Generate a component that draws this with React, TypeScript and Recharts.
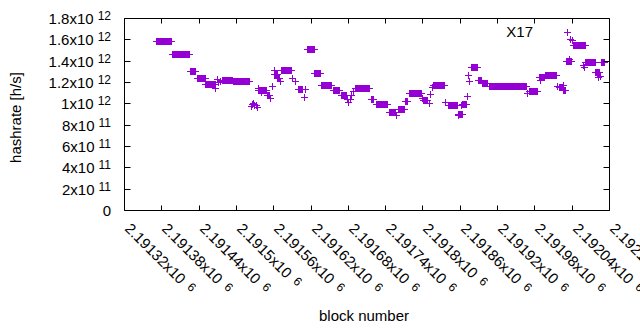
import { ReferenceArea, Scatter, ScatterChart, XAxis, YAxis } from "recharts";

// step runs: every block from start to end has the same estimate
const runStart = [
  2191371, 2191396, 2191425, 2191436, 2191450, 2191478, 2191494, 2191534, 2191549,
  2191561, 2191566, 2191572, 2191599, 2191613, 2191625, 2191636, 2191655, 2191668,
  2191692, 2191717, 2191724, 2191745, 2191760, 2191771, 2191777, 2191800, 2191816,
  2191840, 2191856, 2191863, 2191877, 2191889, 2191895, 2191907, 2191970, 2191986,
  2191997, 2192019, 2192025, 2192030, 2192041, 2192061, 2192077, 2192086,
];
const runEnd = [
  2191395, 2191424, 2191434, 2191449, 2191465, 2191493, 2191521, 2191547, 2191552,
  2191566, 2191568, 2191588, 2191605, 2191624, 2191635, 2191652, 2191665, 2191676,
  2191713, 2191720, 2191742, 2191755, 2191769, 2191774, 2191797, 2191806, 2191834,
  2191854, 2191862, 2191870, 2191887, 2191893, 2191903, 2191966, 2191983, 2191994,
  2192014, 2192023, 2192028, 2192038, 2192060, 2192076, 2192083, 2192091,
];
const runValue = [
  1.585e12, 1.471e12, 1.306e12, 1.246e12, 1.19e12, 1.227e12, 1.218e12, 1.133e12, 1.086e12,
  1.284e12, 1.245e12, 1.321e12, 1.142e12, 1.517e12, 1.293e12, 1.175e12, 1.128e12, 1.082e12,
  1.147e12, 1.045e12, 1.003e12, 0.928e12, 0.947e12, 1.03e12, 1.103e12, 1.035e12, 1.175e12,
  0.99e12, 0.905e12, 1.0e12, 1.343e12, 1.222e12, 1.191e12, 1.163e12, 1.125e12, 1.252e12,
  1.274e12, 1.161e12, 1.133e12, 1.405e12, 1.556e12, 1.39e12, 1.301e12, 1.39e12,
];

// scattered single estimates
const pointBlock = [
  2191465, 2191469, 2191471, 2191473, 2191476, 2191523, 2191525, 2191527, 2191529,
  2191531, 2191533, 2191535, 2191539, 2191554, 2191557, 2191561, 2191570, 2191590,
  2191594, 2191609, 2191610, 2191678, 2191680, 2191682, 2191685, 2191687, 2191690,
  2191756, 2191798, 2191810, 2191811, 2191814, 2191836, 2191856, 2191861, 2191871,
  2191873, 2191874, 2191968, 2191989, 2192016, 2192025, 2192035, 2192036, 2192039,
  2192058, 2192059, 2192081, 2192085,
];
const pointValue = [
  1.144e12, 1.23e12, 1.205e12, 1.212e12, 1.22e12, 0.98e12, 0.995e12, 1.005e12, 0.99e12,
  0.985e12, 0.975e12, 1.144e12, 1.113e12, 1.051e12, 1.166e12, 1.321e12, 1.215e12, 1.238e12,
  1.215e12, 1.066e12, 1.135e12, 1.045e12, 1.021e12, 1.045e12, 1.082e12, 1.119e12, 1.147e12,
  0.895e12, 1.051e12, 1.01e12, 1.091e12, 1.159e12, 1.014e12, 0.895e12, 0.989e12, 1.075e12,
  1.268e12, 1.215e12, 1.098e12, 1.222e12, 1.169e12, 1.181e12, 1.424e12, 1.61e12, 1.595e12,
  1.368e12, 1.343e12, 1.252e12, 1.262e12,
];

const xTicks = [
  2191320, 2191380, 2191440, 2191500, 2191560, 2191620, 2191680, 2191740, 2191800,
  2191860, 2191920, 2191980, 2192040, 2192100,
];
const yTicks = [0, 2e11, 4e11, 6e11, 8e11, 1e12, 1.2e12, 1.4e12, 1.6e12, 1.8e12];
const seriesName = "X17";

const PURPLE = "#9400d3";
const FONT = "'Liberation Sans', Arial, sans-serif";
// plot box (gnuplot-like border)
const PL = 124.5;
const PR = 609.5;
const PT = 18.5;
const PB = 210.5;

const data: { block: number; rate: number }[] = [];
runStart.forEach((s, i) => {
  for (let b = s; b <= runEnd[i]; b++) data.push({ block: b, rate: runValue[i] });
});
pointBlock.forEach((b, i) => data.push({ block: b, rate: pointValue[i] }));

function cross(cx: number, cy: number) {
  const x = Math.round(cx) + 0.5;
  const y = Math.round(cy) + 0.5;
  return `M${x - 3.5},${y}H${x + 3.5}M${x},${y - 3.5}V${y + 3.5}`;
}

const Plus = (props: any) => {
  const { cx, cy } = props;
  if (cx == null || cy == null) return null;
  return <path d={cross(cx, cy)} stroke={PURPLE} strokeWidth={1} fill="none" />;
};

function sci(v: number) {
  if (v === 0) return { main: "0", sup: "" };
  const e = Math.floor(Math.log10(v) + 1e-9);
  const m = parseFloat((v / Math.pow(10, e)).toFixed(3));
  return { main: `${m}x10`, sup: String(e) };
}

const YTick = (props: any) => {
  const { y, payload } = props;
  const ty = Math.floor(y) + 0.5;
  const { main, sup } = sci(payload.value);
  return (
    <g>
      <line x1={PL} x2={PL + 6} y1={ty} y2={ty} stroke="#000" />
      <line x1={PR - 6} x2={PR} y1={ty} y2={ty} stroke="#000" />
      <text x={111} y={ty + 5.5} textAnchor="end" fontSize={15} fontFamily={FONT} fill="#000">
        {main}
        {sup && (
          <tspan dx={4} dy={-4} fontSize={12}>
            {sup}
          </tspan>
        )}
      </text>
    </g>
  );
};

const XTick = (props: any) => {
  const { x, payload } = props;
  const tx = Math.floor(x) + 0.5;
  const main = `${parseFloat((payload.value / 1e6).toPrecision(6))}x10`;
  return (
    <g>
      <line x1={tx} x2={tx} y1={PB} y2={PB - 5} stroke="#000" />
      <line x1={tx} x2={tx} y1={PT} y2={PT + 5} stroke="#000" />
      <text
        transform={`translate(${tx - 0.5},229.5) rotate(45)`}
        fontSize={15}
        fontFamily={FONT}
        fill="#000"
      >
        {main}
        <tspan dx={7} dy={-3} fontSize={12}>
          6
        </tspan>
      </text>
    </g>
  );
};

export default function App() {
  return (
    <div style={{ position: "absolute", left: 0, top: 0, width: 640, height: 330, background: "#fff" }}>
      <ScatterChart
        width={640}
        height={330}
        margin={{ top: PT, right: 640 - PR, bottom: 0, left: 0 }}
      >
        <XAxis
          type="number"
          dataKey="block"
          domain={[2191320, 2192100]}
          ticks={xTicks}
          interval={0}
          height={330 - PB}
          axisLine={false}
          tickLine={false}
          tick={<XTick />}
          label={{
            content: () => (
              <text x={364} y={321} textAnchor="middle" fontSize={15} fontFamily={FONT} fill="#000">
                block number
              </text>
            ),
          }}
        />
        <YAxis
          type="number"
          dataKey="rate"
          domain={[0, 1.8e12]}
          ticks={yTicks}
          interval={0}
          width={PL}
          axisLine={false}
          tickLine={false}
          tick={<YTick />}
          label={{
            content: () => (
              <text
                transform="translate(21,117.5) rotate(-90)"
                textAnchor="middle"
                fontSize={15}
                fontFamily={FONT}
                fill="#000"
              >
                hashrate [h/s]
              </text>
            ),
          }}
        />
        <Scatter
          name={seriesName}
          data={data}
          shape={<Plus />}
          isAnimationActive={false}
        />
        <ReferenceArea
          x1={2191320}
          x2={2192100}
          y1={0}
          y2={1.8e12}
          fill="none"
          stroke="#000"
          strokeWidth={1}
          fillOpacity={0}
        />
      </ScatterChart>
      <svg
        width={640}
        height={60}
        style={{ position: "absolute", left: 0, top: 0, pointerEvents: "none" }}
      >
        <text x={533} y={37} textAnchor="end" fontSize={15} fontFamily={FONT} fill="#000">
          {seriesName}
        </text>
        <path d={cross(567, 32)} stroke={PURPLE} strokeWidth={1} fill="none" />
      </svg>
    </div>
  );
}
